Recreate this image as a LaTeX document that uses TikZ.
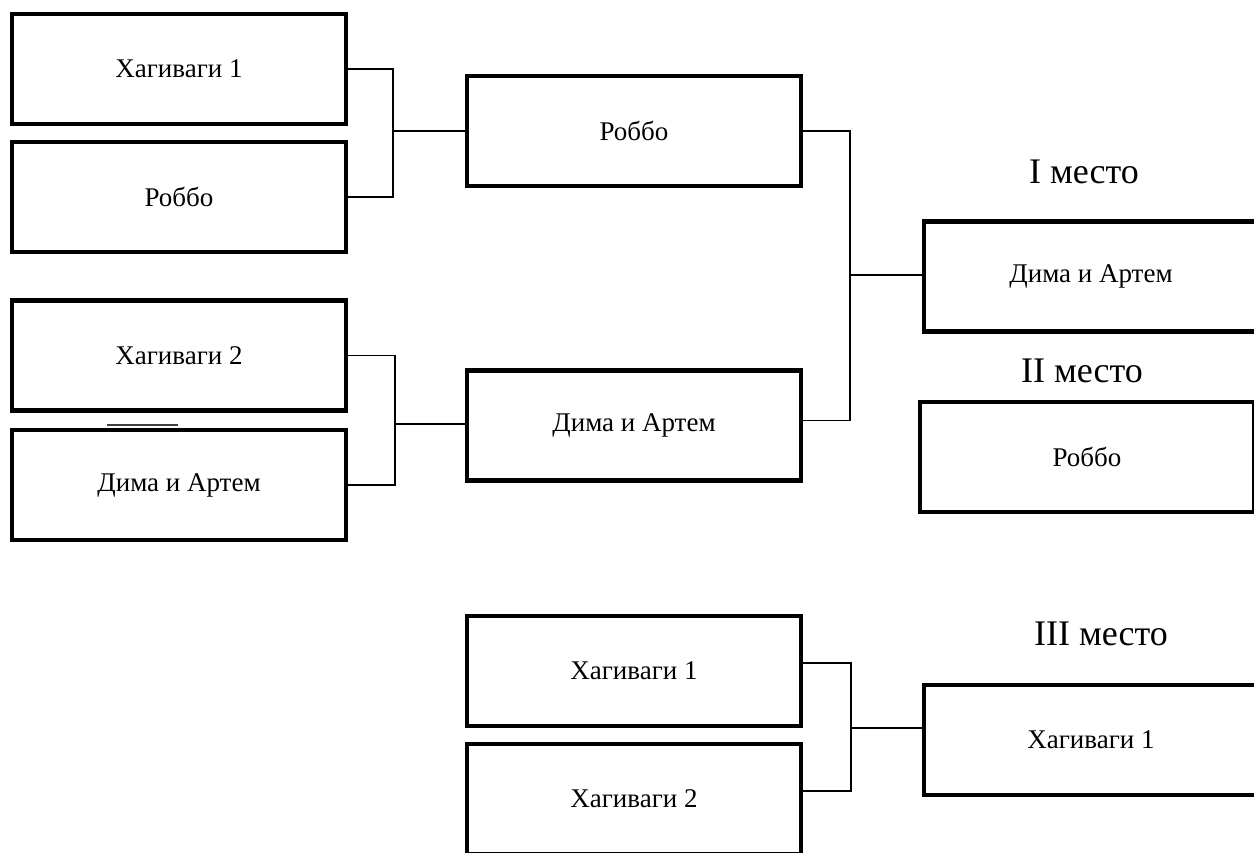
\documentclass[tikz,border=0pt]{standalone}
\usepackage{fontspec}
\setmainfont{Liberation Serif}
\usetikzlibrary{calc}
\begin{document}
\begin{tikzpicture}[x=1pt,y=-1pt,
  team/.style={draw=black,line width=4.5pt,rectangle,minimum width=334pt,
    minimum height=110pt,inner sep=0pt,font=\fontsize{27}{30}\selectfont},
  link/.style={draw=black,line width=1.5pt},
  place/.style={font=\fontsize{36}{40}\selectfont,inner sep=0pt}]
\useasboundingbox (0,0) rectangle (1254,853);
\clip (0,0) rectangle (1254,853);
\fill[white] (0,0) rectangle (1254,853);

% first round
\node[team] (a) at (179,69) {Хагиваги 1};
\node[team] (b) at (179,197) {Роббо};
\node[team] (d) at (179,355.5) {Хагиваги 2};
\node[team] (e) at (179,485) {Дима и Артем};
\draw[line width=2pt,black!75] (107,425) -- (178,425);

% semi-finals
\node[team] (c) at (634,131) {Роббо};
\node[team] (f) at (634,425.5) {Дима и Артем};

% final places
\node[place] (p1) at (1084,172) {I место};
\node[team] (g) at (1091,276.5) {Дима и Артем};
\node[place] (p2) at (1082,371) {II место};
\node[team] (h) at (1087,457) {Роббо};

% third place match
\node[team] (i) at (634,671) {Хагиваги 1};
\node[team] (j) at (634,799) {Хагиваги 2};
\node[place] (p3) at (1101,634) {III место};
\node[team] (k) at (1091,740) {Хагиваги 1};

% brackets
\coordinate (ab) at (393,131);
\draw[link] (a.east) -| (ab) |- (b.east);
\draw[link] (ab) -- (ab -| c.west);

\coordinate (de) at (395,424);
\draw[link] (d.east) -| (de) |- (e.east);
\draw[link] (de) -- (de -| f.west);

\coordinate (cf) at (850,275);
\draw[link] (c.east) -| (cf) |- ($(f.east)+(0,-5)$);
\draw[link] (cf) -- (cf -| g.west);

\coordinate (ij) at (851,728);
\draw[link] ($(i.east)+(0,-8)$) -| (ij) |- ($(j.east)+(0,-8)$);
\draw[link] (ij) -- (ij -| k.west);
\end{tikzpicture}
\end{document}
